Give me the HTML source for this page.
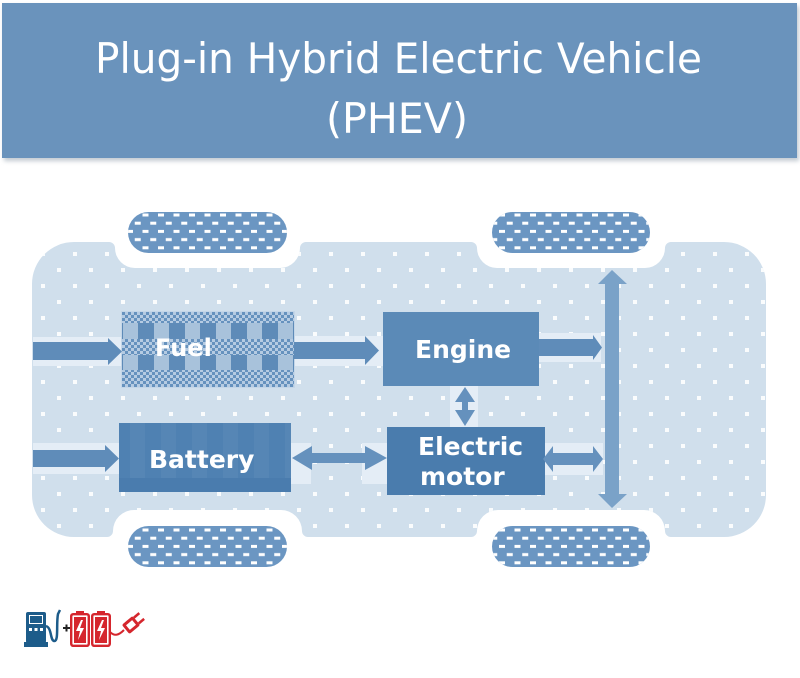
<!DOCTYPE html>
<html><head><meta charset="utf-8">
<style>
html,body{margin:0;padding:0;background:#fff;width:800px;height:678px;overflow:hidden}
svg{display:block}
</style></head>
<body>
<svg width="800" height="678" viewBox="0 0 800 678" xmlns="http://www.w3.org/2000/svg">
<defs>
 <pattern id="dots" patternUnits="userSpaceOnUse" x="9" y="252" width="32" height="32">
  <rect x="0" y="0" width="4" height="4" fill="#fff" opacity="0.9"/>
  <rect x="16" y="16" width="4" height="4" fill="#fff" opacity="0.9"/>
 </pattern>
 <pattern id="treadT" patternUnits="userSpaceOnUse" x="499" y="213.5" width="15.5" height="16.4">
  <rect x="0" y="0" width="6" height="3" fill="#fff"/>
  <rect x="7.75" y="8.2" width="6" height="3" fill="#fff"/>
 </pattern>
 <pattern id="treadB" patternUnits="userSpaceOnUse" x="499" y="528.5" width="15.5" height="16.4">
  <rect x="0" y="0" width="6" height="3" fill="#fff"/>
  <rect x="7.75" y="8.2" width="6" height="3" fill="#fff"/>
 </pattern>
 <pattern id="checker" patternUnits="userSpaceOnUse" x="122" y="312" width="6" height="6">
  <rect x="0" y="0" width="6" height="6" fill="#b5cbe2"/>
  <rect x="0" y="0" width="3" height="3" fill="#6692be"/>
  <rect x="3" y="3" width="3" height="3" fill="#6692be"/>
 </pattern>
 <pattern id="stripes" patternUnits="userSpaceOnUse" x="138" y="0" width="31" height="10">
  <rect x="0" y="0" width="31" height="10" fill="#a8c2db"/>
  <rect x="0" y="0" width="16" height="10" fill="#5e8bb8"/>
 </pattern>
 <pattern id="bstripes" patternUnits="userSpaceOnUse" x="130" y="0" width="31" height="10">
  <rect x="0" y="0" width="31" height="10" fill="#4f81b2"/>
  <rect x="0" y="0" width="15" height="10" fill="#5686b5"/>
 </pattern>
 <filter id="sh" x="-5%" y="-5%" width="110%" height="115%">
  <feGaussianBlur stdDeviation="2"/>
 </filter>
</defs>

<!-- Title -->
<rect x="4" y="6" width="795" height="155" fill="#9aa7b4" opacity="0.6" filter="url(#sh)"/>
<rect x="2" y="3" width="795" height="155" fill="#6a93bc"/>
<text x="95" y="73" font-family="DejaVu Sans, Liberation Sans, sans-serif" font-size="42" fill="#fff" textLength="607" lengthAdjust="spacingAndGlyphs">Plug-in Hybrid Electric Vehicle</text>
<text x="326" y="133" font-family="DejaVu Sans, Liberation Sans, sans-serif" font-size="42" fill="#fff" textLength="142" lengthAdjust="spacingAndGlyphs">(PHEV)</text>

<!-- Chassis -->
<path id="ch" d="M74,242 L109,242 A6,6 0 0 1 115,248 A20,20 0 0 0 135,268 L280,268 A20,20 0 0 0 300,248 A6,6 0 0 1 306,242
 L471,242 A6,6 0 0 1 477,248 A20,20 0 0 0 497,268 L645,268 A20,20 0 0 0 665,248 A6,6 0 0 1 671,242
 L724,242 A42,42 0 0 1 766,284 L766,495 A42,42 0 0 1 724,537
 L671,537 A6,6 0 0 1 665,531 A21,21 0 0 0 644,510 L498,510 A21,21 0 0 0 477,531 A6,6 0 0 1 471,537
 L308,537 A6,6 0 0 1 302,531 A21,21 0 0 0 281,510 L134,510 A21,21 0 0 0 113,531 A6,6 0 0 1 107,537
 L74,537 A42,42 0 0 1 32,495 L32,284 A42,42 0 0 1 74,242 Z" fill="#d0dfec"/>
<path d="M74,242 L109,242 A6,6 0 0 1 115,248 A20,20 0 0 0 135,268 L280,268 A20,20 0 0 0 300,248 A6,6 0 0 1 306,242
 L471,242 A6,6 0 0 1 477,248 A20,20 0 0 0 497,268 L645,268 A20,20 0 0 0 665,248 A6,6 0 0 1 671,242
 L724,242 A42,42 0 0 1 766,284 L766,495 A42,42 0 0 1 724,537
 L671,537 A6,6 0 0 1 665,531 A21,21 0 0 0 644,510 L498,510 A21,21 0 0 0 477,531 A6,6 0 0 1 471,537
 L308,537 A6,6 0 0 1 302,531 A21,21 0 0 0 281,510 L134,510 A21,21 0 0 0 113,531 A6,6 0 0 1 107,537
 L74,537 A42,42 0 0 1 32,495 L32,284 A42,42 0 0 1 74,242 Z" fill="url(#dots)"/>

<!-- wheels -->
<rect x="128" y="212" width="159" height="41" rx="20.5" fill="#6b96c2"/>
<rect x="128" y="212" width="159" height="41" rx="20.5" fill="url(#treadT)"/>
<rect x="492" y="212" width="158" height="41" rx="20.5" fill="#6b96c2"/>
<rect x="492" y="212" width="158" height="41" rx="20.5" fill="url(#treadT)"/>
<rect x="128" y="526" width="159" height="41" rx="20.5" fill="#6b96c2"/>
<rect x="128" y="526" width="159" height="41" rx="20.5" fill="url(#treadB)"/>
<rect x="492" y="526" width="158" height="41" rx="20.5" fill="#6b96c2"/>
<rect x="492" y="526" width="158" height="41" rx="20.5" fill="url(#treadB)"/>

<!-- pale strips behind arrows -->
<g fill="#e4edf6">
 <rect x="33" y="337" width="89" height="29"/>
 <rect x="294" y="336" width="89" height="30"/>
 <rect x="539" y="333" width="62" height="29"/>
 <rect x="33" y="443" width="86" height="31"/>
 <rect x="291" y="443" width="20" height="41"/>
 <rect x="362" y="443" width="25" height="41"/>
 <rect x="450" y="386" width="28" height="41"/>
 <rect x="545" y="443" width="58" height="32"/>
</g>

<!-- Fuel box -->
<rect x="121" y="311" width="174" height="77" fill="#c4d6e8"/>
<rect x="122" y="312" width="172" height="75" fill="url(#stripes)"/>
<rect x="122" y="312" width="172" height="11" fill="url(#checker)"/>
<rect x="122" y="339" width="172" height="16" fill="url(#checker)"/>
<rect x="122" y="370" width="172" height="17" fill="url(#checker)"/>
<text x="155" y="356" font-family="DejaVu Sans, Liberation Sans, sans-serif" font-weight="bold" font-size="24" fill="#fff">Fuel</text>

<!-- Engine box -->
<rect x="383" y="312" width="156" height="74" fill="#5b8ab7"/>
<text x="415" y="358" font-family="DejaVu Sans, Liberation Sans, sans-serif" font-weight="bold" font-size="25" fill="#fff">Engine</text>

<!-- Battery box -->
<rect x="119" y="423" width="172" height="69" fill="url(#bstripes)"/>
<rect x="119" y="478" width="172" height="14" fill="#4a7cae"/>
<text x="149" y="468" font-family="DejaVu Sans, Liberation Sans, sans-serif" font-weight="bold" font-size="25" fill="#fff">Battery</text>

<!-- Electric motor box -->
<rect x="387" y="427" width="158" height="68" fill="#4a7cad"/>
<text x="418" y="455" font-family="DejaVu Sans, Liberation Sans, sans-serif" font-weight="bold" font-size="25" fill="#fff">Electric</text>
<text x="420" y="485" font-family="DejaVu Sans, Liberation Sans, sans-serif" font-weight="bold" font-size="25" fill="#fff">motor</text>

<!-- arrows -->
<g fill="#5f8cb9">
 <polygon points="33,342 108,342 108,338 122,351.5 108,365 108,360 33,360"/>
 <polygon points="294,342 365,342 365,336 379,350.5 365,365 365,359 294,359"/>
 <polygon points="33,450 105,450 105,445 119,458.5 105,472 105,467 33,467"/>
 <polygon points="539,339 593,339 593,335 602,347.5 593,360 593,356 539,356"/>
</g>
<g fill="#6591bd">
 <polygon points="292,458 312,446 312,453 365,453 365,446 387,458 365,470 365,463 312,463 312,470"/>
 <polygon points="543,459 553,446 553,453 593,453 593,446 603,459 593,472 593,465 553,465 553,472"/>
 <polygon points="465,387 475,402 468,402 468,410 475,410 465,426 455,410 462,410 462,402 455,402"/>
</g>
<polygon fill="#7aa2c8" points="612,270 627,284 619,284 619,494 627,494 612,508 598,494 605,494 605,284 598,284"/>

<!-- bottom icons -->
<g>
 <rect x="26" y="612" width="20" height="31" rx="2" fill="#1d5c8a"/>
 <rect x="29" y="615" width="14" height="9" fill="#fff"/>
 <rect x="30" y="616" width="12" height="7" fill="#1d5c8a"/>
 <rect x="29" y="628" width="3" height="3" fill="#fff"/>
 <rect x="34.5" y="628" width="3" height="3" fill="#fff"/>
 <rect x="40" y="628" width="3" height="3" fill="#fff"/>
 <rect x="24" y="642" width="24" height="5" fill="#1d5c8a"/>
 <path d="M46,626 C52,628 50,640 54,641 C59,642 56,624 58,614 L60,610" fill="none" stroke="#1d5c8a" stroke-width="2.5"/>
 <rect x="63" y="627" width="7" height="2" fill="#222"/>
 <rect x="65.5" y="624.5" width="2" height="7" fill="#222"/>
 <rect x="76" y="611" width="8" height="4" fill="#d5262d"/>
 <rect x="71.2" y="614.2" width="17.6" height="31.6" rx="2" fill="none" stroke="#d5262d" stroke-width="2.4"/>
 <rect x="74" y="617" width="12" height="26" fill="#d5262d"/>
 <polygon points="81,620 76,631 80,631 78,640 84,628 80,628 83,620" fill="#fff"/>
 <rect x="97" y="611" width="8" height="4" fill="#d5262d"/>
 <rect x="92.2" y="614.2" width="17.6" height="31.6" rx="2" fill="none" stroke="#d5262d" stroke-width="2.4"/>
 <rect x="95" y="617" width="12" height="26" fill="#d5262d"/>
 <polygon points="102,620 97,631 101,631 99,640 105,628 101,628 104,620" fill="#fff"/>
 <path d="M110,632 C114,636 118,636 124,630" fill="none" stroke="#d5262d" stroke-width="2"/>
 <g transform="rotate(-40 131 625)">
  <rect x="124" y="619" width="14" height="12" rx="2" fill="#d5262d"/>
  <rect x="127" y="622" width="8" height="6" fill="#fff"/>
  <rect x="138" y="620" width="7" height="2.5" fill="#d5262d"/>
  <rect x="138" y="627.5" width="7" height="2.5" fill="#d5262d"/>
 </g>
</g>
</svg>
</body></html>
